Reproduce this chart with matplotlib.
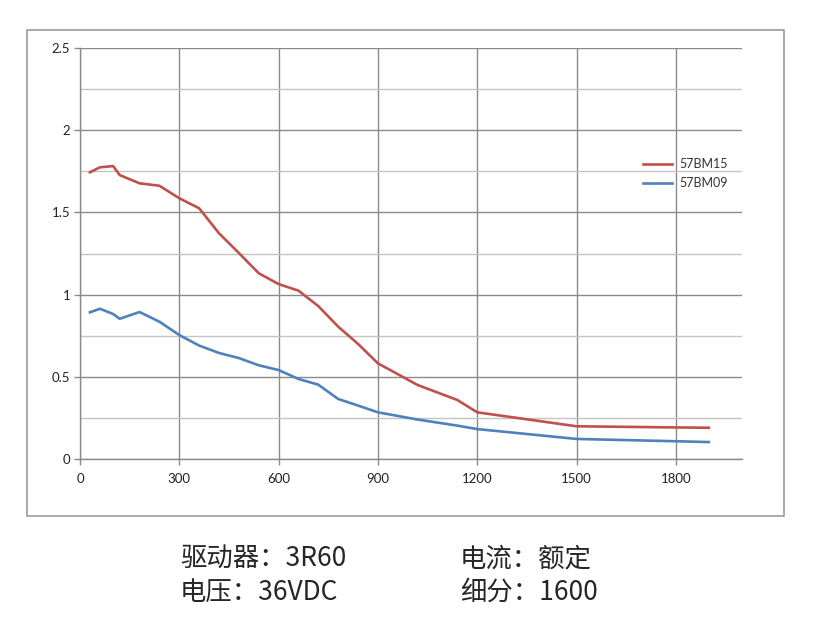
import matplotlib
matplotlib.use("Agg")
import matplotlib.pyplot as plt
from matplotlib.patches import Rectangle
from matplotlib.ticker import MultipleLocator

speed = [30, 60, 100, 120, 180, 240, 300, 360, 420, 480, 540, 600, 660, 720,
         780, 840, 900, 1020, 1140, 1200, 1500, 1800, 1900]
torque_15 = [1.744, 1.774, 1.782, 1.727, 1.677, 1.662, 1.586, 1.525, 1.373, 1.253,
             1.130, 1.064, 1.024, 0.93, 0.805, 0.70, 0.582, 0.45, 0.359, 0.284,
             0.199, 0.192, 0.19]
torque_09 = [0.892, 0.914, 0.882, 0.853, 0.894, 0.835, 0.754, 0.69, 0.645, 0.614,
             0.57, 0.541, 0.487, 0.452, 0.365, 0.325, 0.284, 0.24, 0.203, 0.182,
             0.122, 0.108, 0.103]
series_names = ["57BM15", "57BM09"]
x_ticks = [0, 300, 600, 900, 1200, 1500, 1800]
y_ticks = [0, 0.5, 1, 1.5, 2, 2.5]
y_labels = ["0", "0.5", "1", "1.5", "2", "2.5"]
info_left = ["驱动器：3R60", "电压：36VDC"]
info_right = ["电流：额定", "细分：1600"]

W, H = 816, 636
fig = plt.figure(figsize=(W / 100, H / 100), dpi=100)

# outer frame
fig.patches.append(Rectangle((27 / W, 1 - 516 / H), (784 - 27) / W, (516 - 30) / H,
                             transform=fig.transFigure, fill=False,
                             edgecolor="#9a9a9a", linewidth=1.2))

ax = fig.add_axes([80 / W, 1 - 459 / H, (742 - 80) / W, (459 - 48) / H])
ax.set_xlim(0, 2000)
ax.set_ylim(0, 2.5)

ax.yaxis.set_minor_locator(MultipleLocator(0.25))
ax.set_yticks(y_ticks)
ax.set_yticklabels(y_labels)
ax.set_xticks(x_ticks)
ax.set_xticklabels([str(v) for v in x_ticks])

ax.grid(True, which="major", axis="both", color="#8a8a8a", linewidth=1.0)
ax.grid(True, which="minor", axis="y", color="#c4c4c4", linewidth=1.0)
ax.set_axisbelow(True)

for s in ["top", "right"]:
    ax.spines[s].set_visible(False)
for s in ["left", "bottom"]:
    ax.spines[s].set_color("#8a8a8a")
    ax.spines[s].set_linewidth(1.0)

ax.tick_params(axis="both", which="major", direction="out", length=4, width=1.0,
               color="#8a8a8a", labelsize=9.5, labelcolor="#222222")
ax.tick_params(axis="y", which="minor", length=0)
ax.tick_params(axis="x", pad=6)
ax.tick_params(axis="y", pad=3)
for lab in ax.get_xticklabels() + ax.get_yticklabels():
    lab.set_fontfamily("Lato")

ax.plot(speed, torque_15, color="#C0504D", linewidth=1.9, label=series_names[0])
ax.plot(speed, torque_09, color="#4F81BD", linewidth=1.9, label=series_names[1])

leg = ax.legend(loc="upper left", bbox_to_anchor=((637 - 80) / 662, (459 - 152) / 411),
                frameon=False, borderpad=0, handlelength=2.3, handletextpad=0.55,
                labelspacing=0.55, prop={"family": "Lato", "size": 9})
for t in leg.get_texts():
    t.set_color("#333333")

cjk = ["Noto Sans CJK SC", "DejaVu Sans"]
for i, (l, r) in enumerate(zip(info_left, info_right)):
    y = 1 - (559 + i * 33) / H
    fig.text(180 / W, y, l, family=cjk, fontsize=19, color="#262626", va="center", ha="left")
    fig.text(460 / W, y, r, family=cjk, fontsize=19, color="#262626", va="center", ha="left")

fig.savefig("out.png", dpi=100, facecolor="white")
